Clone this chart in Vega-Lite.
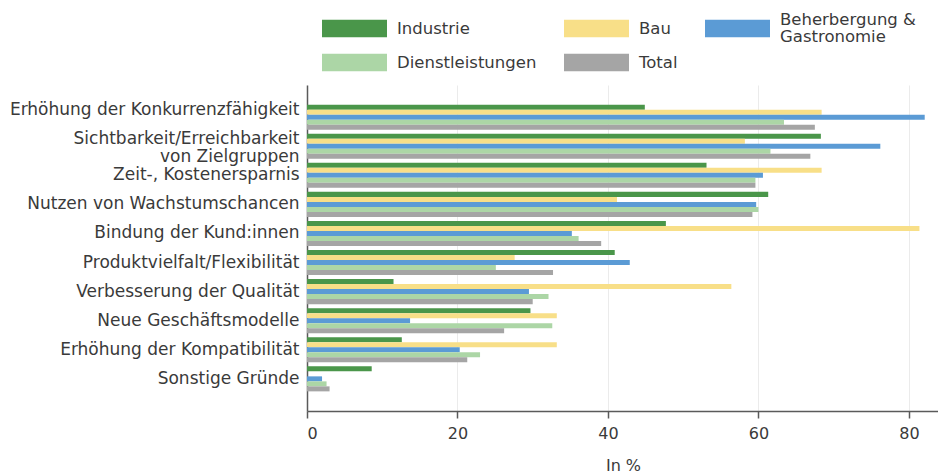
{
  "$schema": "https://vega.github.io/schema/vega-lite/v6.json",
  "width": 632,
  "height": 326,
  "autosize": {"type": "none"},
  "padding": {"left": 307, "top": 85, "right": 0, "bottom": 63},
  "config": {
    "font": "DejaVu Sans",
    "view": {"stroke": null},
    "axis": {"labelColor": "#3a3a3a", "titleColor": "#3a3a3a", "domainColor": "#5a5a5a", "tickColor": "#5a5a5a"},
    "legend": {"labelColor": "#3a3a3a"}
  },
  "data": {
    "values": [
      {"g": "Erhöhung der Konkurrenzfähigkeit", "s": "Industrie", "v": 44.9},
      {"g": "Erhöhung der Konkurrenzfähigkeit", "s": "Bau", "v": 68.4},
      {"g": "Erhöhung der Konkurrenzfähigkeit", "s": "Beherbergung & Gastronomie", "v": 82.1},
      {"g": "Erhöhung der Konkurrenzfähigkeit", "s": "Dienstleistungen", "v": 63.4},
      {"g": "Erhöhung der Konkurrenzfähigkeit", "s": "Total", "v": 67.5},
      {"g": "Sichtbarkeit/Erreichbarkeit von Zielgruppen", "s": "Industrie", "v": 68.3},
      {"g": "Sichtbarkeit/Erreichbarkeit von Zielgruppen", "s": "Bau", "v": 58.2},
      {"g": "Sichtbarkeit/Erreichbarkeit von Zielgruppen", "s": "Beherbergung & Gastronomie", "v": 76.2},
      {"g": "Sichtbarkeit/Erreichbarkeit von Zielgruppen", "s": "Dienstleistungen", "v": 61.6},
      {"g": "Sichtbarkeit/Erreichbarkeit von Zielgruppen", "s": "Total", "v": 66.9},
      {"g": "Zeit-, Kostenersparnis", "s": "Industrie", "v": 53.1},
      {"g": "Zeit-, Kostenersparnis", "s": "Bau", "v": 68.4},
      {"g": "Zeit-, Kostenersparnis", "s": "Beherbergung & Gastronomie", "v": 60.6},
      {"g": "Zeit-, Kostenersparnis", "s": "Dienstleistungen", "v": 59.6},
      {"g": "Zeit-, Kostenersparnis", "s": "Total", "v": 59.6},
      {"g": "Nutzen von Wachstumschancen", "s": "Industrie", "v": 61.3},
      {"g": "Nutzen von Wachstumschancen", "s": "Bau", "v": 41.2},
      {"g": "Nutzen von Wachstumschancen", "s": "Beherbergung & Gastronomie", "v": 59.7},
      {"g": "Nutzen von Wachstumschancen", "s": "Dienstleistungen", "v": 60.0},
      {"g": "Nutzen von Wachstumschancen", "s": "Total", "v": 59.2},
      {"g": "Bindung der Kund:innen", "s": "Industrie", "v": 47.7},
      {"g": "Bindung der Kund:innen", "s": "Bau", "v": 81.4},
      {"g": "Bindung der Kund:innen", "s": "Beherbergung & Gastronomie", "v": 35.2},
      {"g": "Bindung der Kund:innen", "s": "Dienstleistungen", "v": 36.1},
      {"g": "Bindung der Kund:innen", "s": "Total", "v": 39.1},
      {"g": "Produktvielfalt/Flexibilität", "s": "Industrie", "v": 40.9},
      {"g": "Produktvielfalt/Flexibilität", "s": "Bau", "v": 27.6},
      {"g": "Produktvielfalt/Flexibilität", "s": "Beherbergung & Gastronomie", "v": 42.9},
      {"g": "Produktvielfalt/Flexibilität", "s": "Dienstleistungen", "v": 25.1},
      {"g": "Produktvielfalt/Flexibilität", "s": "Total", "v": 32.7},
      {"g": "Verbesserung der Qualität", "s": "Industrie", "v": 11.5},
      {"g": "Verbesserung der Qualität", "s": "Bau", "v": 56.4},
      {"g": "Verbesserung der Qualität", "s": "Beherbergung & Gastronomie", "v": 29.5},
      {"g": "Verbesserung der Qualität", "s": "Dienstleistungen", "v": 32.1},
      {"g": "Verbesserung der Qualität", "s": "Total", "v": 30.0},
      {"g": "Neue Geschäftsmodelle", "s": "Industrie", "v": 29.7},
      {"g": "Neue Geschäftsmodelle", "s": "Bau", "v": 33.2},
      {"g": "Neue Geschäftsmodelle", "s": "Beherbergung & Gastronomie", "v": 13.7},
      {"g": "Neue Geschäftsmodelle", "s": "Dienstleistungen", "v": 32.6},
      {"g": "Neue Geschäftsmodelle", "s": "Total", "v": 26.2},
      {"g": "Erhöhung der Kompatibilität", "s": "Industrie", "v": 12.6},
      {"g": "Erhöhung der Kompatibilität", "s": "Bau", "v": 33.2},
      {"g": "Erhöhung der Kompatibilität", "s": "Beherbergung & Gastronomie", "v": 20.3},
      {"g": "Erhöhung der Kompatibilität", "s": "Dienstleistungen", "v": 23.0},
      {"g": "Erhöhung der Kompatibilität", "s": "Total", "v": 21.3},
      {"g": "Sonstige Gründe", "s": "Industrie", "v": 8.6},
      {"g": "Sonstige Gründe", "s": "Beherbergung & Gastronomie", "v": 2.0},
      {"g": "Sonstige Gründe", "s": "Dienstleistungen", "v": 2.6},
      {"g": "Sonstige Gründe", "s": "Total", "v": 3.0}
    ]
  },
  "mark": {"type": "bar"},
  "encoding": {
    "y": {
      "field": "g",
      "type": "nominal",
      "sort": null,
      "scale": {"paddingInner": 0.14, "paddingOuter": 0.675},
      "axis": {
        "title": null,
        "ticks": false,
        "domainWidth": 1.5,
        "labelFontSize": 17,
        "labelPadding": 8,
        "labelLimit": 320,
        "labelLineHeight": 18,
        "labelOffset": {"condition": {"test": "datum.value == 'Erhöhung der Konkurrenzfähigkeit' || datum.value == 'Sichtbarkeit/Erreichbarkeit von Zielgruppen'", "value": -7}, "value": 0},
        "labelExpr": "datum.label == 'Sichtbarkeit/Erreichbarkeit von Zielgruppen' ? ['Sichtbarkeit/Erreichbarkeit', 'von Zielgruppen'] : datum.label"
      }
    },
    "yOffset": {
      "field": "s",
      "type": "nominal",
      "sort": ["Industrie", "Bau", "Beherbergung & Gastronomie", "Dienstleistungen", "Total"],
      "scale": {"domain": ["Industrie", "Bau", "Beherbergung & Gastronomie", "Dienstleistungen", "Total"], "paddingInner": 0, "paddingOuter": 0}
    },
    "x": {
      "field": "v",
      "type": "quantitative",
      "scale": {"domain": [0, 84], "nice": false},
      "axis": {
        "values": [0, 20, 40, 60, 80],
        "grid": true,
        "gridColor": "#ebebeb",
        "domainWidth": 1.5,
        "tickSize": 7,
        "tickWidth": 1.5,
        "labelFontSize": 16,
        "labelPadding": 7,
        "title": "In %",
        "titleFontSize": 16,
        "titleFontWeight": "normal",
        "titlePadding": 16
      }
    },
    "color": {
      "field": "s",
      "type": "nominal",
      "scale": {
        "domain": ["Industrie", "Bau", "Beherbergung & Gastronomie", "Dienstleistungen", "Total"],
        "range": ["#4a964a", "#f8df88", "#5b9bd5", "#acd6a6", "#a5a5a5"]
      },
      "legend": {
        "title": null,
        "orient": "none",
        "direction": "horizontal",
        "legendX": 15,
        "legendY": -73.5,
        "columns": 3,
        "columnPadding": 27,
        "rowPadding": 0,
        "clipHeight": 34,
        "symbolType": "M-3.714,-1H3.714V1H-3.714Z",
        "symbolSize": 306.25,
        "symbolOffset": 23.5,
        "symbolStrokeWidth": 0,
        "symbolOpacity": 1,
        "labelFontSize": 16.5,
        "labelOffset": 33.5,
        "labelLimit": 300,
        "labelExpr": "datum.label == 'Beherbergung & Gastronomie' ? ['Beherbergung &', 'Gastronomie'] : datum.label",
        "encode": {"labels": {"update": {"lineHeight": {"value": 17}, "dy": {"signal": "datum.value == 'Beherbergung & Gastronomie' ? -8.5 : 0"}}}}
      }
    }
  }
}
